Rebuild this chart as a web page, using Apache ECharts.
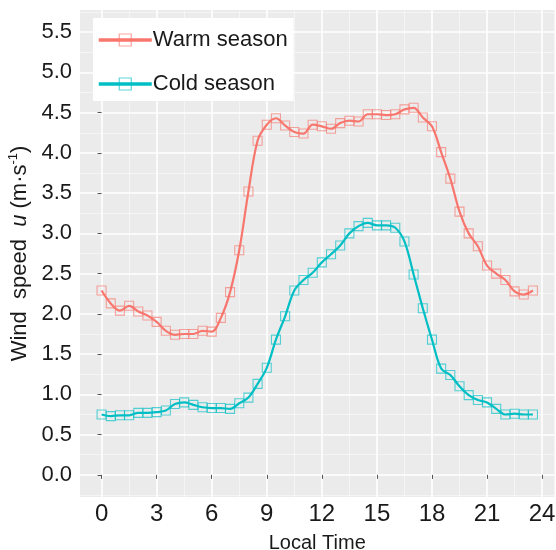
<!DOCTYPE html>
<html>
<head>
<meta charset="utf-8">
<script src="https://cdn.jsdelivr.net/npm/echarts@6/dist/echarts.min.js"></script>
<style>
  html, body { margin: 0; padding: 0; background: #fff; }
  #chart { width: 556px; height: 550px; }
</style>
</head>
<body>
<div id="chart"></div>
<script>
// Half-hourly local time (h)
const hours = [0, 0.5, 1, 1.5, 2, 2.5, 3, 3.5, 4, 4.5, 5, 5.5, 6, 6.5, 7, 7.5,
  8, 8.5, 9, 9.5, 10, 10.5, 11, 11.5, 12, 12.5, 13, 13.5, 14, 14.5, 15, 15.5,
  16, 16.5, 17, 17.5, 18, 18.5, 19, 19.5, 20, 20.5, 21, 21.5, 22, 22.5, 23, 23.5];

// Mean wind speed u (m·s-1), warm season
const warmSeason = [2.29, 2.13, 2.04, 2.10, 2.03, 1.98, 1.90, 1.79, 1.74, 1.75, 1.75, 1.79,
  1.78, 1.95, 2.27, 2.79, 3.52, 4.15, 4.35, 4.43, 4.34, 4.26, 4.24, 4.35,
  4.33, 4.30, 4.37, 4.40, 4.39, 4.48, 4.48, 4.47, 4.48, 4.54, 4.56, 4.44,
  4.33, 4.01, 3.68, 3.27, 3.00, 2.84, 2.60, 2.50, 2.42, 2.28, 2.24, 2.29];

// Mean wind speed u (m·s-1), cold season
const coldSeason = [0.75, 0.73, 0.74, 0.74, 0.77, 0.77, 0.78, 0.80, 0.88, 0.90, 0.87, 0.84,
  0.83, 0.83, 0.82, 0.89, 0.96, 1.13, 1.33, 1.68, 1.97, 2.29, 2.42, 2.51,
  2.64, 2.74, 2.85, 3.00, 3.09, 3.13, 3.10, 3.10, 3.07, 2.90, 2.49, 2.07,
  1.68, 1.32, 1.24, 1.10, 0.99, 0.93, 0.90, 0.82, 0.75, 0.76, 0.75, 0.75];

const seriesNames = ['Warm season', 'Cold season'];
const seriesColors = ['#F8766D', '#00BFC4'];
const seriesSymbolColors = ['rgba(248,118,109,0.65)', 'rgba(0,191,196,0.65)'];

// Axis breaks
const xMajorTicks = [0, 3, 6, 9, 12, 15, 18, 21, 24];
const xMinorTicks = [1.5, 4.5, 7.5, 10.5, 13.5, 16.5, 19.5, 22.5];
const yMajorTicks = [0, 0.5, 1, 1.5, 2, 2.5, 3, 3.5, 4, 4.5, 5, 5.5];
const yMinorTicks = [-0.25, 0.25, 0.75, 1.25, 1.75, 2.25, 2.75, 3.25, 3.75, 4.25, 4.75, 5.25, 5.75];

// Panel limits padded by 5% of the data range on each side
const xMin = -1.175, xMax = 24.675;
const yMin = -0.275, yMax = 5.775;

const FONT = '"Liberation Sans", Arial, sans-serif';

function pairs(values) {
  return hours.map((h, i) => [h, values[i]]);
}

function lineSeries(idx, values) {
  return {
    name: seriesNames[idx],
    type: 'line',
    xAxisIndex: 0,
    yAxisIndex: 0,
    data: pairs(values),
    smooth: 0.35,
    symbol: 'rect',
    symbolSize: 9,
    showSymbol: true,
    itemStyle: {
      color: 'rgba(0,0,0,0)',
      borderColor: seriesSymbolColors[idx],
      borderWidth: 1.1
    },
    lineStyle: { color: seriesColors[idx], width: 2.2 },
    emphasis: { disabled: true },
    z: 3
  };
}

const chart = echarts.init(document.getElementById('chart'), null, { renderer: 'canvas' });

chart.setOption({
  animation: false,
  backgroundColor: '#ffffff',
  textStyle: { fontFamily: FONT },
  grid: {
    left: 80, right: 1.5, top: 10, bottom: 53,
    show: true, backgroundColor: '#EBEBEB', borderWidth: 0,
    containLabel: false,
    outerBoundsMode: 'none'
  },
  legend: {
    orient: 'vertical',
    left: 93, top: 18,
    padding: [11, 6, 6, 4],
    backgroundColor: '#ffffff',
    itemWidth: 53,
    itemHeight: 15,
    itemGap: 22,
    selectedMode: false,
    textStyle: { fontSize: 22, color: '#1a1a1a', fontFamily: FONT, padding: [0, 0, 0, -4], lineHeight: 22 },
    data: [
      { name: seriesNames[0], itemStyle: { borderColor: seriesSymbolColors[0], borderWidth: 1.2 }, lineStyle: { width: 3.5 } },
      { name: seriesNames[1], itemStyle: { borderColor: seriesSymbolColors[1], borderWidth: 1.2 }, lineStyle: { width: 3.5 } }
    ]
  },
  xAxis: [
    {
      type: 'value', min: xMin, max: xMax,
      name: 'Local Time', nameLocation: 'middle', nameGap: 36,
      nameTextStyle: { fontSize: 20, color: '#1a1a1a', fontFamily: FONT },
      axisLine: { show: false },
      axisTick: { show: true, length: 4, lineStyle: { color: '#555', width: 1 }, customValues: xMajorTicks },
      axisLabel: { fontSize: 24, color: '#1a1a1a', margin: 5, customValues: xMajorTicks, fontFamily: FONT },
      splitLine: { show: true, lineStyle: { color: '#ffffff', width: 1.6 } },
      z: 2
    },
    {
      type: 'value', min: xMin, max: xMax, gridIndex: 0, position: 'bottom',
      axisLine: { show: false },
      axisTick: { show: false, customValues: xMinorTicks },
      axisLabel: { show: false, customValues: xMinorTicks },
      splitLine: { show: true, lineStyle: { color: '#F7F7F7', width: 0.8 } },
      z: 1
    }
  ],
  yAxis: [
    {
      type: 'value', min: yMin, max: yMax,
      name: '{n|Wind  speed  }{i|u}{n| (m·s}{s|-1}{n|)}',
      nameLocation: 'middle', nameGap: 40, nameRotate: 90,
      nameTextStyle: {
        fontSize: 22, color: '#1a1a1a', fontFamily: FONT,
        rich: {
          n: { fontSize: 22, color: '#1a1a1a', fontFamily: FONT, lineHeight: 25 },
          i: { fontSize: 22, color: '#1a1a1a', fontFamily: FONT, fontStyle: 'italic', lineHeight: 25 },
          s: { fontSize: 13, color: '#1a1a1a', fontFamily: FONT, verticalAlign: 'top', lineHeight: 14 }
        }
      },
      axisLine: { show: false },
      axisTick: { show: true, length: 4, lineStyle: { color: '#555', width: 1 }, customValues: yMajorTicks },
      axisLabel: {
        fontSize: 22, color: '#1a1a1a', margin: 8, customValues: yMajorTicks, fontFamily: FONT,
        formatter: v => v.toFixed(1)
      },
      splitLine: { show: true, lineStyle: { color: '#ffffff', width: 1.6 } },
      z: 2
    },
    {
      type: 'value', min: yMin, max: yMax, gridIndex: 0, position: 'left',
      axisLine: { show: false },
      axisTick: { show: false, customValues: yMinorTicks },
      axisLabel: { show: false, customValues: yMinorTicks },
      splitLine: { show: true, lineStyle: { color: '#F7F7F7', width: 0.8 } },
      z: 1
    }
  ],
  series: [
    lineSeries(0, warmSeason),
    lineSeries(1, coldSeason)
  ]
});
</script>
</body>
</html>
